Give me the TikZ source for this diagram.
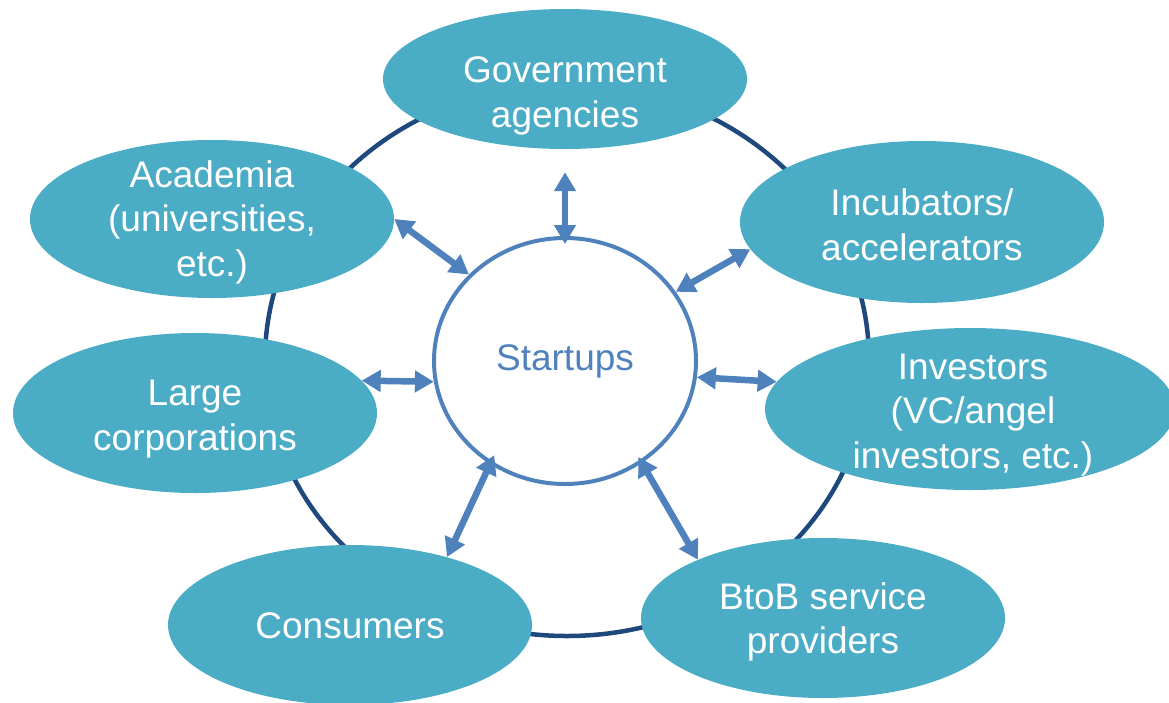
\documentclass[tikz,border=0pt]{standalone}
\usepackage{fontspec}
\setmainfont{Liberation Sans}
\usetikzlibrary{shapes.geometric,arrows.meta}
\definecolor{blobteal}{HTML}{4BACC6}
\definecolor{ringblue}{HTML}{1F497D}
\definecolor{linkblue}{HTML}{4F81BD}

\begin{document}
\begin{tikzpicture}[
                x=1pt, y=-1pt,                % 按像素坐标
                every node/.style={
                    font=\fontsize{37}{44.5}\selectfont,
                    align=center
                },
                blob/.style={
                    ellipse,
                    fill=blobteal,
                    inner sep=0pt,
                    minimum width=364pt,
                    minimum height=160pt
                },
                txt/.style={text=white, inner sep=0pt},
                link/.style={{Triangle[length=19pt,width=21pt]}-{Triangle[length=19pt,width=21pt]},
                    line width=6.5pt, draw=linkblue}
            ]
                \useasboundingbox (0,0) rectangle (1169,702);

                % 外圈
                \draw[ringblue, line width=4.5pt] (567,360) ellipse [x radius=302pt, y radius=276pt];

                % 椭圆
                \node[blob, minimum height=140pt] (gov) at (565,79) {};
                \node[blob, minimum height=158pt] (aca) at (212,219) {};
                \node[blob, minimum height=162pt] (inc) at (922,222) {};
                \node[blob] (lar) at (195,413) {};
                \node[blob, minimum width=410pt, minimum height=162pt] (inv) at (970,409) {};
                \node[blob] (con) at (350,625) {};
                \node[blob] (bto) at (823,618) {};

                % 文字
                \node[txt] (govtext) at (565,96) {Government\\agencies};
                \node[txt] (acatext) at (212,222) {Academia\\(universities,\\etc.)};
                \node[txt] (inctext) at (922,225) {Incubators/\\accelerators};
                \node[txt] (lartext) at (195,419) {Large\\corporations};
                \node[txt] (invtext) at (973,415) {Investors\\(VC/angel\\investors, etc.)};
                \node[txt] (context) at (350,626) {Consumers};
                \node[txt] (btotext) at (823,622) {BtoB service\\providers};

                % 中心
                \node[ellipse, draw=linkblue, line width=4pt, fill=white, text=linkblue,
                      minimum width=262pt, minimum height=246pt, inner sep=0pt] (st) at (565,361) {Startups};

                % 双向箭头
                \draw[link, shorten <=23pt, shorten >=-8pt] (gov.south) -- (st.north);
                \draw[link] (aca.east) -- (st.138);
                \draw[link] (inc.189) -- (st.32);
                \draw[link] (lar.11) -- (st.189);
                \draw[link] (inv.172) -- (st.353);
                \draw[link, shorten >=-10pt] (con.35) -- (st.234);
                \draw[link, shorten >=-7pt] (bto.155) -- (st.307);
            \end{tikzpicture}
\end{document}
